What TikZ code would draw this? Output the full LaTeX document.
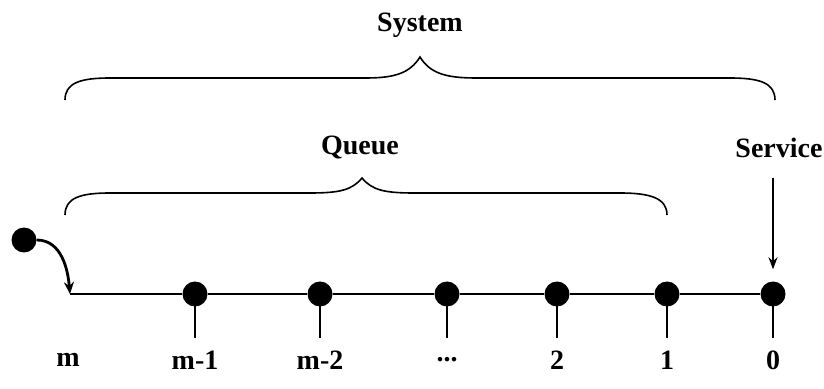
\documentclass[tikz,border=0pt]{standalone}
\usepackage{fontspec}
\setmainfont{Liberation Serif}
\usetikzlibrary{arrows.meta}
\begin{document}
\begin{tikzpicture}[x=1pt,y=1pt,
  dot/.style={circle,fill=black,inner sep=0pt,minimum size=25pt},
  lbl/.style={font=\fontsize{28}{30}\selectfont\bfseries,inner sep=0pt},
  ln/.style={line width=1.8pt},
  brace/.style={line width=1.6pt}]
\useasboundingbox (0,0) rectangle (824,388);
% main line
\coordinate (start) at (70,94);
\node[dot] (d5) at (195,94) {};
\node[dot] (d4) at (320,94) {};
\node[dot] (d3) at (447,94) {};
\node[dot] (d2) at (557,94) {};
\node[dot] (d1) at (667,94) {};
\node[dot] (d0) at (773,94) {};
\draw[ln] (start) -- (d5) -- (d4) -- (d3) -- (d2) -- (d1) -- (d0);
% ticks
\foreach \n/\x in {d5/195,d4/320,d3/447,d2/557,d1/667,d0/773}{
  \coordinate (t\n) at (\x,50);
  \draw[ln] (\n.center) -- (t\n);
}
% labels
\node[lbl] (lm) at (68,28) {m};
\node[lbl] (l5) at (195,28) {m-1};
\node[lbl] (l4) at (320,28) {m-2};
\node[lbl] (l3) at (447,28) {...};
\node[lbl] (l2) at (557,28) {2};
\node[lbl] (l1) at (667,28) {1};
\node[lbl] (l0) at (773,28) {0};
% entering customer
\node[dot] (new) at (24,148) {};
\draw[line width=2.8pt,-{Stealth[length=12pt,width=10pt]}] (new.east) to[out=0,in=95] (start);
% service
\node[lbl] (serv) at (779,240) {Service};
\coordinate (sa) at (773,210);
\draw[line width=1.8pt,-{Stealth[length=12pt,width=9pt]},shorten >=12pt] (sa) -- (d0.north);
% queue brace
\node[lbl] (queue) at (360,240) {Queue};
\draw[brace] (65,173) .. controls (65,190) and (80,195) .. (110,195) -- (310,195)
  .. controls (340,195) and (352,198) .. (362,210)
  .. controls (372,198) and (384,195) .. (414,195) -- (620,195)
  .. controls (650,195) and (667,190) .. (667,173);
% system brace
\node[lbl] (system) at (420,363) {System};
\draw[brace] (65,288) .. controls (65,305) and (80,310) .. (110,310) -- (366,310)
  .. controls (395,310) and (410,315) .. (420,331)
  .. controls (430,315) and (445,310) .. (476,310) -- (730,310)
  .. controls (760,310) and (775,305) .. (775,288);
\end{tikzpicture}
\end{document}
